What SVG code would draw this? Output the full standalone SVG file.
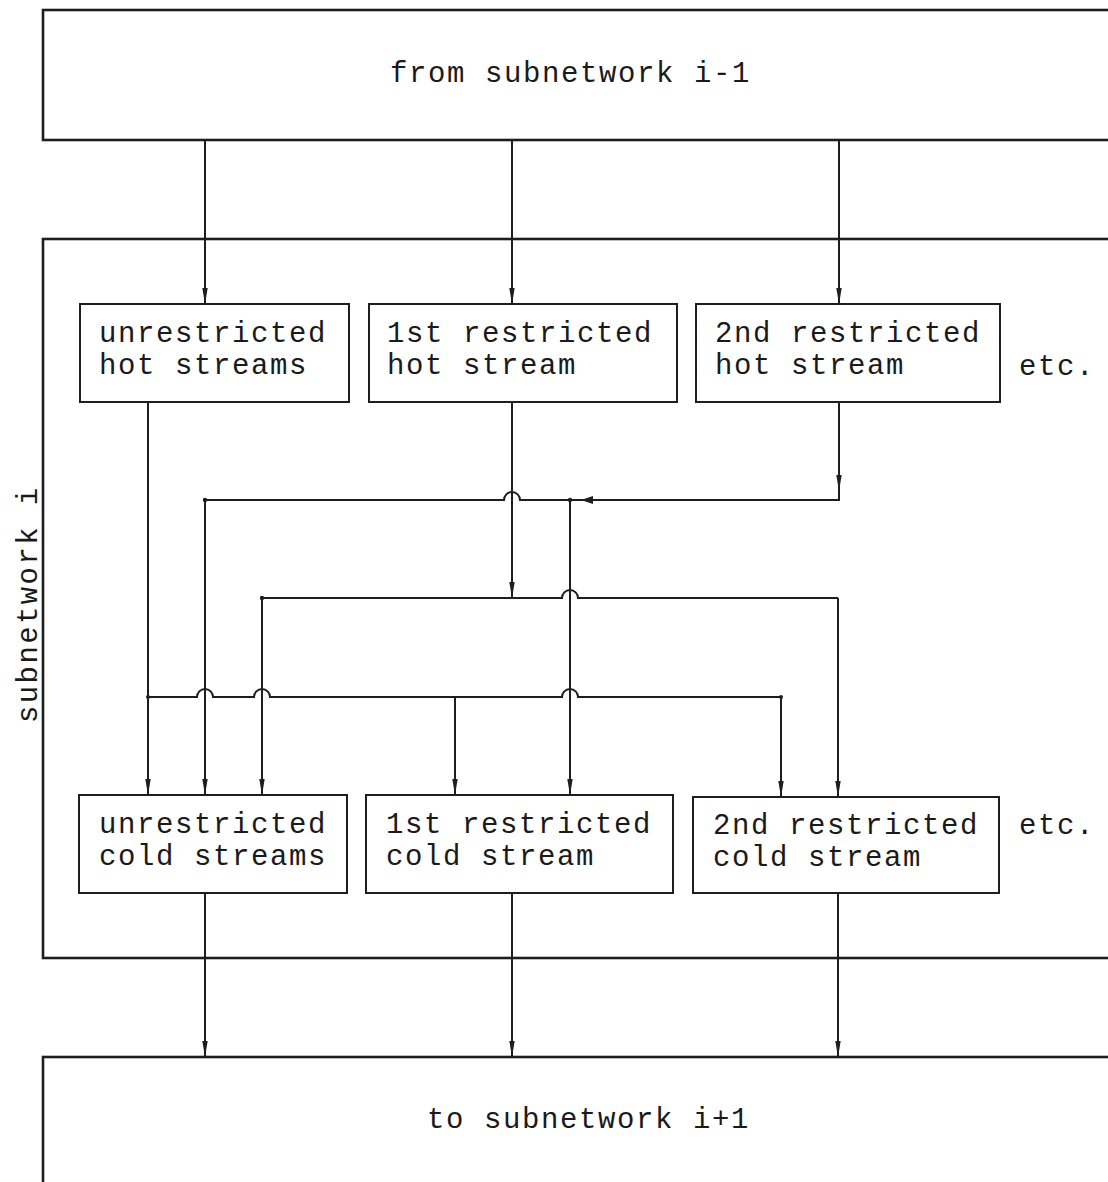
<svg xmlns="http://www.w3.org/2000/svg" width="1108" height="1182" viewBox="0 0 1108 1182">
  <style>
    .frame { fill: none; stroke: #1e1e1e; stroke-width: 2.6; }
    .box { fill: #ffffff; stroke: #1e1e1e; stroke-width: 2; }
    .label { font-family: "Liberation Mono", "Courier New", monospace; font-size: 29px; letter-spacing: 1.6px; fill: #1a1a1a; }
    .side { letter-spacing: 2.4px; }
    .wire { fill: none; stroke: #1e1e1e; stroke-width: 2; }
    .dot { fill: #1e1e1e; }
  </style>
  <defs>
    <marker id="arrow" markerUnits="userSpaceOnUse" markerWidth="18" markerHeight="8" refX="16" refY="3.5" orient="auto">
      <path d="M0,0.8 L16,3.5 L0,6.2 z" fill="#1e1e1e"/>
    </marker>
    <marker id="arrow-bold" markerUnits="userSpaceOnUse" markerWidth="14" markerHeight="10" refX="12" refY="4.5" orient="auto">
      <path d="M0,0.5 L12,4.5 L0,8.5 z" fill="#1e1e1e"/>
    </marker>
  </defs>

  <rect width="1108" height="1182" fill="#ffffff"/>

  <!-- outer frames -->
  <g id="from-subnetwork">
    <rect class="frame" x="43" y="10" width="1100" height="130"/>
    <text class="label" x="390" y="82">from subnetwork i-1</text>
  </g>
  <g id="subnetwork">
    <rect class="frame" x="43" y="239" width="1100" height="719"/>
    <text class="label side" transform="translate(37,723) rotate(-90)">subnetwork i</text>
  </g>
  <g id="to-subnetwork">
    <rect class="frame" x="43" y="1057" width="1100" height="200"/>
    <text class="label" x="427" y="1128">to subnetwork i+1</text>
  </g>

  <!-- hot stream nodes -->
  <g id="hot-unrestricted">
    <rect class="box" x="80" y="304" width="269" height="98"/>
    <text class="label" x="99" y="342">unrestricted</text>
    <text class="label" x="99" y="374">hot streams</text>
  </g>
  <g id="hot-1st">
    <rect class="box" x="369" y="304" width="308" height="98"/>
    <text class="label" x="387" y="342">1st restricted</text>
    <text class="label" x="387" y="374">hot stream</text>
  </g>
  <g id="hot-2nd">
    <rect class="box" x="696" y="304" width="304" height="98"/>
    <text class="label" x="715" y="342">2nd restricted</text>
    <text class="label" x="715" y="374">hot stream</text>
  </g>
  <text class="label" x="1019" y="375">etc.</text>

  <!-- cold stream nodes -->
  <g id="cold-unrestricted">
    <rect class="box" x="79" y="795" width="268" height="98"/>
    <text class="label" x="99" y="833">unrestricted</text>
    <text class="label" x="99" y="865">cold streams</text>
  </g>
  <g id="cold-1st">
    <rect class="box" x="366" y="795" width="307" height="98"/>
    <text class="label" x="386" y="833">1st restricted</text>
    <text class="label" x="386" y="865">cold stream</text>
  </g>
  <g id="cold-2nd">
    <rect class="box" x="693" y="797" width="306" height="96"/>
    <text class="label" x="713" y="834">2nd restricted</text>
    <text class="label" x="713" y="866">cold stream</text>
  </g>
  <text class="label" x="1019" y="834">etc.</text>

  <!-- connectors -->
  <g id="connectors">
    <!-- inflows from subnetwork i-1 -->
    <path class="wire" d="M205,140 V304" marker-end="url(#arrow)"/>
    <path class="wire" d="M512,140 V304" marker-end="url(#arrow)"/>
    <path class="wire" d="M839,140 V304" marker-end="url(#arrow)"/>

    <!-- unrestricted hot streams: to every cold stream -->
    <path class="wire" d="M148,402 V795" marker-end="url(#arrow)"/>
    <path class="wire" d="M148,697 H197 a8,8 0 0 1 16,0 H254 a8,8 0 0 1 16,0 H562 a8,8 0 0 1 16,0 H781"/>
    <path class="wire" d="M455,697 V795" marker-end="url(#arrow)"/>
    <path class="wire" d="M781,697 V797" marker-end="url(#arrow)"/>

    <!-- 1st restricted hot stream -->
    <path class="wire" d="M512,402 V598" marker-end="url(#arrow)"/>
    <path class="wire" d="M262,598 H562 a8,8 0 0 1 16,0 H838"/>
    <path class="wire" d="M262,598 V795" marker-end="url(#arrow)"/>
    <path class="wire" d="M838,598 V797" marker-end="url(#arrow)"/>

    <!-- 2nd restricted hot stream -->
    <path class="wire" d="M839,402 V500 H520 a8,8 0 0 0 -16,0 H205"/>
    <path class="wire" d="M839,468 V491" marker-end="url(#arrow)"/>
    <path class="wire" d="M605,500 H581" marker-end="url(#arrow-bold)"/>
    <path class="wire" d="M205,500 V795" marker-end="url(#arrow)"/>
    <path class="wire" d="M570,500 V795" marker-end="url(#arrow)"/>

    <!-- outflows to subnetwork i+1 -->
    <path class="wire" d="M205,893 V1057" marker-end="url(#arrow)"/>
    <path class="wire" d="M512,893 V1057" marker-end="url(#arrow)"/>
    <path class="wire" d="M838,893 V1057" marker-end="url(#arrow)"/>

    <!-- junction dots -->
    <circle class="dot" cx="205" cy="500" r="2.2"/>
    <circle class="dot" cx="570" cy="500" r="2.2"/>
    <circle class="dot" cx="262" cy="598" r="2.2"/>
    <circle class="dot" cx="148" cy="697" r="2"/>
    <circle class="dot" cx="781" cy="697" r="2"/>
  </g>
</svg>
